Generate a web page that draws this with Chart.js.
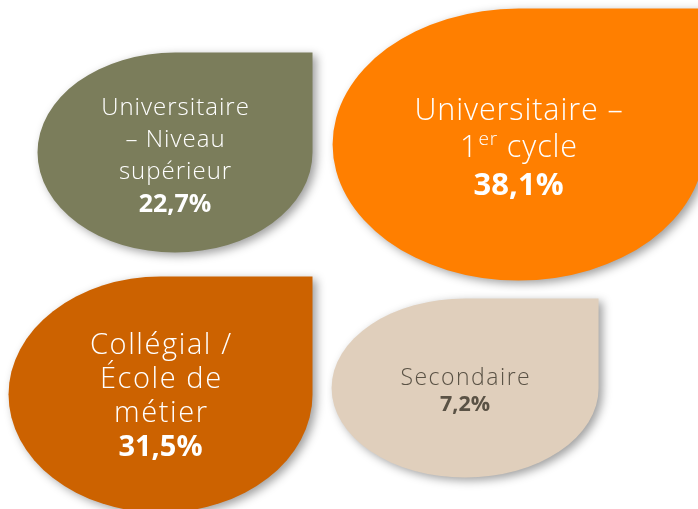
<!DOCTYPE html>
<html>
<head>
<meta charset="utf-8">
<script src="https://cdn.jsdelivr.net/npm/chart.js@4"></script>
<style>
html,body{margin:0;padding:0;background:#fff;}
#c{display:block;}
</style>
</head>
<body>
<canvas id="c" width="698" height="509"></canvas>
<script>
// ---- data ----
const categories = [
  ["Universitaire", "– Niveau", "supérieur"],
  ["Universitaire –", "1^er cycle"],
  ["Collégial /", "École de", "métier"],
  ["Secondaire"]
];
const values = [22.7, 38.1, 31.5, 7.2];
const valueLabels = ["22,7%", "38,1%", "31,5%", "7,2%"];

// ---- styles (not data) ----
const fills = ["#7b7d5b", "#ff7f00", "#cc6200", "#e0cfbc"];
const textColors = ["#ffffff", "#ffffff", "#ffffff", "#5a5245"];
// shape geometry: offset from grid point, half-width, half-height, font sizes
const shapeStyle = [
  {dx: 7.5, dy: 4, rx: 137.5, ry: 100, fs: 24, ls: 1.0, lh: 32, bfs: 25, tdy: 4},
  {dx: 29, dy: -4, rx: 186, ry: 136, fs: 30.5, ls: 0.9, lh: 37.5, bfs: 31, tdy: 4},
  {dx: -7, dy: 3, rx: 152, ry: 118, fs: 29, ls: 1.6, lh: 34, bfs: 29, tdy: 2.5},
  {dx: -24.5, dy: -3.6, rx: 133.5, ry: 89.5, fs: 23, ls: 1.5, lh: 27, bfs: 21.5, tdy: 3.5}
];
const FONT = "'Open Sans', Lato, sans-serif";

function teardrop(ctx, cx, cy, rx, ry) {
  ctx.beginPath();
  ctx.moveTo(cx + rx, cy - ry);
  ctx.lineTo(cx + rx, cy);
  ctx.ellipse(cx, cy, rx, ry, 0, 0, 1.5 * Math.PI, false);
  ctx.lineTo(cx + rx, cy - ry);
  ctx.closePath();
}

function drawLine(ctx, text, cx, y, fs, weight, ls) {
  const parts = text.split(/(\^\w+)/).filter(s => s.length);
  const runs = parts.map(p => p.startsWith("^")
    ? {t: p.slice(1), f: `${weight} ${Math.round(fs * 0.62)}px ${FONT}`, up: -fs * 0.3}
    : {t: p, f: `${weight} ${fs}px ${FONT}`, up: 0});
  ctx.letterSpacing = ls + "px";
  let w = 0;
  runs.forEach(r => { ctx.font = r.f; r.w = ctx.measureText(r.t).width; w += r.w; });
  w -= ls;
  let x = cx - w / 2;
  ctx.textAlign = "left";
  runs.forEach(r => { ctx.font = r.f; ctx.fillText(r.t, x, y + r.up); x += r.w; });
  ctx.letterSpacing = "0px";
}

const teardropPlugin = {
  id: "teardrops",
  afterDatasetsDraw(chart) {
    const ctx = chart.ctx;
    const meta = chart.getDatasetMeta(0);
    meta.data.forEach((el, i) => {
      const s = shapeStyle[i];
      const cx = el.x + s.dx, cy = el.y + s.dy;
      ctx.save();
      ctx.shadowColor = "rgba(0,0,0,0.38)";
      ctx.shadowBlur = 10;
      ctx.shadowOffsetX = 4;
      ctx.shadowOffsetY = 3;
      ctx.fillStyle = fills[i];
      teardrop(ctx, cx, cy, s.rx, s.ry);
      ctx.fill();
      ctx.restore();

      ctx.save();
      ctx.fillStyle = textColors[i];
      ctx.textBaseline = "middle";
      const lines = categories[i].concat([valueLabels[i]]);
      const n = lines.length;
      const ty = cy + s.tdy;
      lines.forEach((ln, k) => {
        const y = ty + (k - (n - 1) / 2) * s.lh;
        const bold = k === n - 1;
        drawLine(ctx, ln, cx, y, bold ? s.bfs : s.fs, bold ? "bold" : "300", bold ? 0 : s.ls);
      });
      ctx.restore();
    });
  }
};

new Chart(document.getElementById("c"), {
  type: "bubble",
  data: {
    datasets: [{
      label: "Répartition",
      data: values.map((v, i) => ({x: i % 2, y: Math.floor(i / 2), r: 1, v: v})),
      backgroundColor: "rgba(0,0,0,0)",
      borderWidth: 0,
      hoverRadius: 0
    }]
  },
  options: {
    responsive: false,
    animation: false,
    devicePixelRatio: 1,
    layout: {padding: 0},
    plugins: {legend: {display: false}, tooltip: {enabled: false}},
    scales: {
      x: {type: "linear", display: false, min: -0.517, max: 1.644},
      y: {type: "linear", display: false, min: -0.607, max: 1.479, reverse: true}
    }
  },
  plugins: [teardropPlugin]
});
</script>
</body>
</html>
